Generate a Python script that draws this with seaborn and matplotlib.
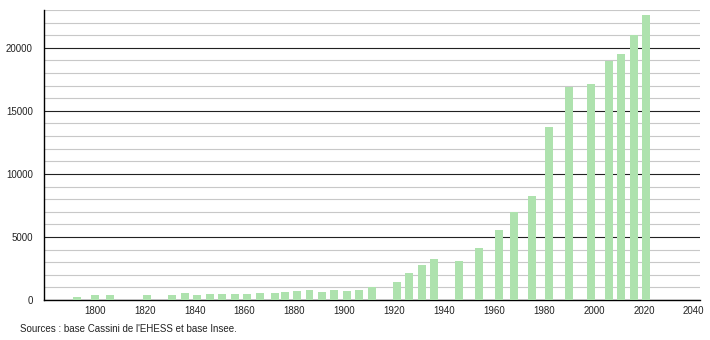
import matplotlib
matplotlib.use("Agg")
import matplotlib.pyplot as plt
import seaborn as sns
import pandas as pd
from matplotlib.ticker import MultipleLocator

years = [1793, 1800, 1806, 1821, 1831, 1836, 1841, 1846, 1851, 1856, 1861, 1866,
         1872, 1876, 1881, 1886, 1891, 1896, 1901, 1906, 1911, 1921, 1926, 1931,
         1936, 1946, 1954, 1962, 1968, 1975, 1982, 1990, 1999, 2006, 2011, 2016, 2021]
population = [260, 420, 420, 370, 400, 570, 400, 480, 480, 480, 500, 560,
              560, 635, 714, 794, 635, 794, 714, 794, 1030, 1430, 2140, 2780,
              3230, 3120, 4150, 5560, 7010, 8250, 13700, 16910, 17170, 18940, 19480, 20990, 22580]
x_ticks = list(range(1800, 2041, 20))
source_text = "Sources : base Cassini de l'EHESS et base Insee."

df = pd.DataFrame({"year": years, "population": population})

sns.set_style("white")
plt.rcParams["font.family"] = ["Liberation Sans", "DejaVu Sans"]

fig = plt.figure(figsize=(7.1, 3.4), dpi=100)
ax = fig.add_axes([44 / 710, 1 - 300 / 340, (700 - 44) / 710, (300 - 10) / 340])

ax.set_axisbelow(True)
sns.barplot(data=df, x="year", y="population", native_scale=True,
            color="#aee2ae", saturation=1, width=0.8, ax=ax, zorder=3,
            edgecolor="none", linewidth=0)

ax.set_xlim(1779.6, 2042.5)
ax.set_ylim(0, 23000)
ax.set_xticks(x_ticks)
ax.set_xticklabels([str(t) for t in x_ticks])
ax.yaxis.set_major_locator(MultipleLocator(5000))
ax.yaxis.set_minor_locator(MultipleLocator(1000))
ax.set_yticks(range(0, 20001, 5000))

ax.grid(which="minor", axis="y", color="#c8c8c8", linewidth=0.8, zorder=0)
ax.grid(which="major", axis="y", color="#222222", linewidth=0.8, zorder=1)
ax.grid(which="major", axis="x", visible=False)

ax.set_xlabel("")
ax.set_ylabel("")
for s in ["top", "right"]:
    ax.spines[s].set_visible(False)
ax.spines["left"].set_color("#000000")
ax.spines["bottom"].set_color("#000000")
ax.spines["left"].set_linewidth(1)
ax.spines["bottom"].set_linewidth(1)

ax.tick_params(axis="y", which="major", direction="out", length=4, width=0.8,
               color="#000000", pad=4, labelsize=7, labelcolor="#222222")
ax.tick_params(axis="y", which="minor", direction="out", length=2.2, width=0.8,
               color="#000000")
ax.tick_params(axis="x", which="both", length=0, pad=4, labelsize=7,
               labelcolor="#222222")

fig.text(20 / 710, 1 - 329 / 340, source_text, fontsize=7, color="#222222",
         ha="left", va="center")

fig.savefig("out.png", dpi=100)
